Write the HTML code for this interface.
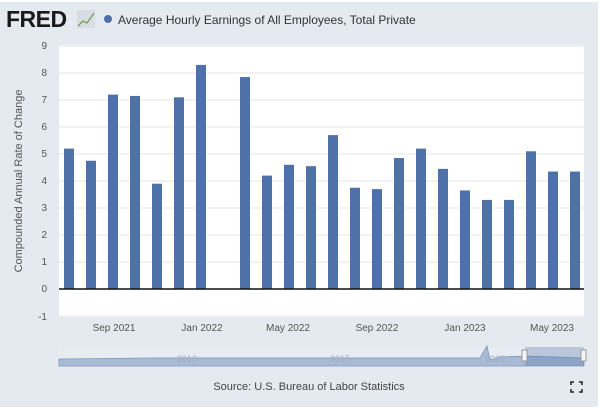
<!DOCTYPE html>
<html><head><style>
body{margin:0;width:600px;height:410px;background:#fff;overflow:hidden;font-family:"Liberation Sans",sans-serif}
</style></head><body>
<svg width="600" height="410" xmlns="http://www.w3.org/2000/svg" font-family="Liberation Sans, sans-serif">
<rect x="0" y="2" width="598" height="405" fill="#e5eaf0"/>
<text x="6" y="27" font-size="23" font-weight="bold" fill="#1a1a1a" letter-spacing="-0.5">FRED</text>
<rect x="77" y="10" width="18" height="18" fill="#d6dde5"/>
<polyline points="78,26 83,21 87,23 94,13" fill="none" stroke="#7a9e5a" stroke-width="1.3"/>
<circle cx="108" cy="19" r="4" fill="#4e72a7"/>
<text x="118" y="24" font-size="12" fill="#333">Average Hourly Earnings of All Employees, Total Private</text>
<rect x="59" y="45" width="525" height="272" fill="#fff"/>
<g stroke="#e6e6e6" stroke-width="1">
<line x1="59" x2="584" y1="46" y2="46"/><line x1="59" x2="584" y1="73" y2="73"/><line x1="59" x2="584" y1="100" y2="100"/><line x1="59" x2="584" y1="127" y2="127"/><line x1="59" x2="584" y1="154" y2="154"/><line x1="59" x2="584" y1="181" y2="181"/><line x1="59" x2="584" y1="208" y2="208"/><line x1="59" x2="584" y1="235" y2="235"/><line x1="59" x2="584" y1="262" y2="262"/><line x1="59" x2="584" y1="316" y2="316"/>
</g>
<g font-size="10" fill="#555" text-anchor="end">
<text x="47" y="49">9</text><text x="47" y="76">8</text><text x="47" y="103">7</text><text x="47" y="130">6</text><text x="47" y="157">5</text><text x="47" y="184">4</text><text x="47" y="211">3</text><text x="47" y="238">2</text><text x="47" y="265">1</text><text x="47" y="292">0</text><text x="47" y="320">-1</text>
</g>
<text transform="translate(22,181) rotate(-90)" font-size="11" fill="#555" text-anchor="middle">Compounded Annual Rate of Change</text>
<g fill="#4e72a7" id="bars"></g>
<line x1="59" x2="584" y1="289" y2="289" stroke="#111" stroke-width="1.5"/>
<g font-size="10" fill="#555" text-anchor="middle">
<text x="114" y="331">Sep 2021</text><text x="202" y="331">Jan 2022</text><text x="288" y="331">May 2022</text><text x="377" y="331">Sep 2022</text><text x="465" y="331">Jan 2023</text><text x="552" y="331">May 2023</text>
</g>
<rect x="59" y="347" width="525" height="19" fill="#e9edf2"/>
<path d="M59,359 L150,358 L300,358 L480,358 L487,346 L490,360 L500,357 L525,356 L584,358 L584,366 L59,366Z" fill="#a9bbd4" stroke="#7d97bd" stroke-width="0.8"/>
<rect x="525" y="347" width="59" height="19" fill="#4e72a7" fill-opacity="0.3"/>
<rect x="522" y="350" width="5" height="11" fill="#f5f5f5" stroke="#999"/>
<rect x="581" y="350" width="5" height="11" fill="#f5f5f5" stroke="#999"/>
<g font-size="9" fill="#a0acbd" text-anchor="middle"><text x="187" y="362">2010</text><text x="340" y="362">2015</text><text x="495" y="362">2020</text></g>
<text x="309" y="390" font-size="11" fill="#444" text-anchor="middle">Source: U.S. Bureau of Labor Statistics</text>
<g stroke="#222" stroke-width="1.5" fill="none"><path d="M571,385v-3h3M579,382h3v3M582,389v3h-3M574,392h-3v-3"/></g>
</svg>
<script>
var v=[5.2,4.75,7.2,7.15,3.9,7.1,8.3,0,7.85,4.2,4.6,4.55,5.7,3.75,3.7,4.85,5.2,4.45,3.65,3.3,3.3,5.1,4.35,4.35];
var g=document.getElementById('bars'),s='';
v.forEach(function(d,i){if(!d)return;var x=69+i*22,h=d*27;
s+='<rect x="'+(x-5)+'" y="'+(289-h)+'" width="10" height="'+h+'"/>';});
g.innerHTML=s;
</script>
</body></html>
